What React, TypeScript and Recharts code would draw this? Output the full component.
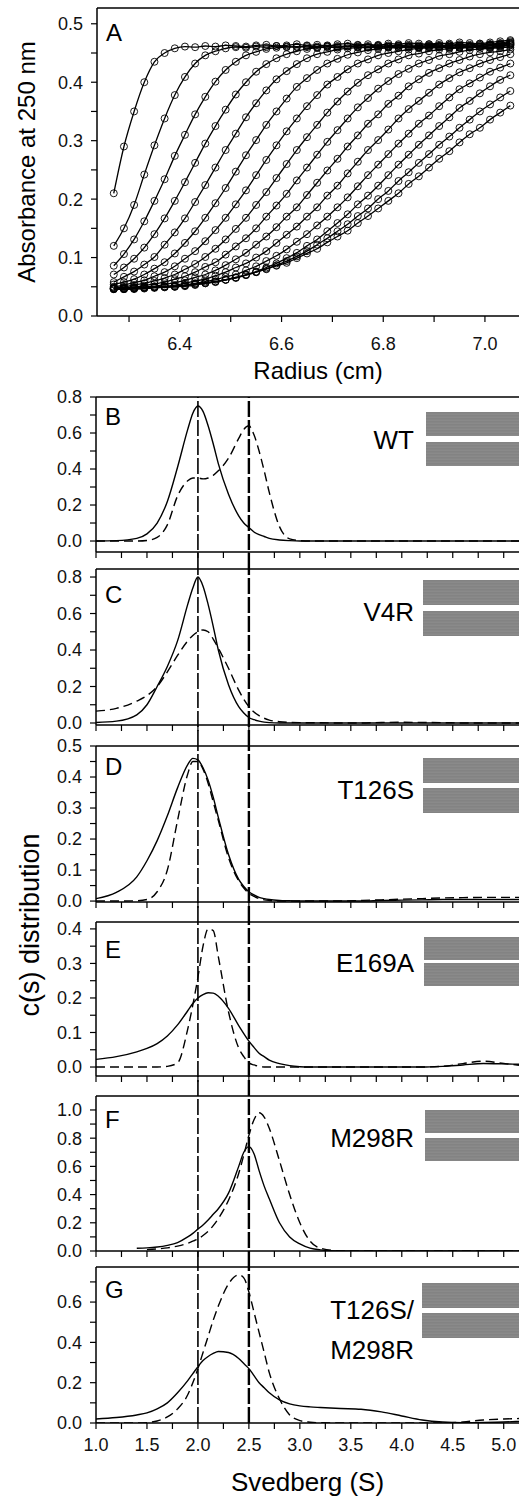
import React from "react";
import { LineChart, Line, XAxis, YAxis, ReferenceLine, Label } from "recharts";

const FONT = '"Liberation Sans", Arial, Helvetica, sans-serif';
const INK = "#000";

// ---------- panel A: absorbance scans vs radius ----------
const radius = [
  6.27, 6.29, 6.31, 6.33, 6.35, 6.37, 6.39, 6.41, 6.43, 6.45, 6.47, 6.49, 6.51, 6.53,
  6.55, 6.57, 6.59, 6.61, 6.63, 6.65, 6.67, 6.69, 6.71, 6.73, 6.75, 6.77, 6.79, 6.81,
  6.83, 6.85, 6.87, 6.89, 6.91, 6.93, 6.95, 6.97, 6.99, 7.01, 7.03, 7.05,
];

const scan01 = [0.21, 0.29, 0.35, 0.4, 0.435, 0.45, 0.458, 0.461, 0.46, 0.462, 0.461, 0.463, 0.462, 0.461, 0.463, 0.464, 0.462, 0.463, 0.465, 0.463, 0.464, 0.462, 0.465, 0.466, 0.464, 0.465, 0.463, 0.466, 0.465, 0.467, 0.466, 0.465, 0.467, 0.466, 0.468, 0.467, 0.466, 0.468, 0.47, 0.472];
const scan02 = [0.12, 0.15, 0.19, 0.242, 0.292, 0.338, 0.378, 0.409, 0.432, 0.446, 0.453, 0.458, 0.46, 0.459, 0.461, 0.46, 0.462, 0.461, 0.46, 0.462, 0.461, 0.463, 0.462, 0.461, 0.463, 0.462, 0.464, 0.463, 0.462, 0.464, 0.463, 0.465, 0.464, 0.463, 0.465, 0.464, 0.466, 0.465, 0.467, 0.47];
const scan03 = [0.086, 0.106, 0.131, 0.162, 0.197, 0.234, 0.274, 0.31, 0.345, 0.375, 0.401, 0.421, 0.435, 0.446, 0.452, 0.457, 0.459, 0.46, 0.461, 0.46, 0.459, 0.461, 0.46, 0.462, 0.461, 0.46, 0.462, 0.461, 0.463, 0.462, 0.461, 0.463, 0.462, 0.464, 0.463, 0.462, 0.464, 0.465, 0.466, 0.468];
const scan04 = [0.071, 0.083, 0.098, 0.117, 0.14, 0.167, 0.197, 0.229, 0.262, 0.295, 0.325, 0.353, 0.379, 0.4, 0.418, 0.431, 0.441, 0.448, 0.453, 0.457, 0.459, 0.46, 0.459, 0.461, 0.46, 0.459, 0.461, 0.46, 0.462, 0.461, 0.46, 0.462, 0.461, 0.463, 0.462, 0.461, 0.463, 0.464, 0.465, 0.467];
const scan05 = [0.058, 0.067, 0.076, 0.088, 0.101, 0.122, 0.143, 0.167, 0.195, 0.224, 0.254, 0.284, 0.312, 0.34, 0.364, 0.386, 0.405, 0.419, 0.431, 0.441, 0.448, 0.452, 0.456, 0.458, 0.459, 0.46, 0.459, 0.461, 0.46, 0.459, 0.461, 0.46, 0.462, 0.461, 0.46, 0.462, 0.461, 0.463, 0.464, 0.466];
const scan06 = [0.054, 0.058, 0.063, 0.071, 0.081, 0.092, 0.107, 0.125, 0.145, 0.168, 0.193, 0.219, 0.247, 0.275, 0.301, 0.327, 0.35, 0.372, 0.392, 0.407, 0.421, 0.432, 0.44, 0.447, 0.451, 0.455, 0.457, 0.459, 0.459, 0.46, 0.459, 0.461, 0.46, 0.459, 0.461, 0.46, 0.461, 0.462, 0.463, 0.465];
const scan07 = [0.05, 0.053, 0.057, 0.061, 0.068, 0.075, 0.085, 0.098, 0.111, 0.128, 0.147, 0.168, 0.191, 0.215, 0.241, 0.267, 0.292, 0.316, 0.338, 0.359, 0.378, 0.396, 0.409, 0.422, 0.432, 0.439, 0.446, 0.45, 0.453, 0.456, 0.458, 0.459, 0.459, 0.46, 0.459, 0.46, 0.461, 0.46, 0.462, 0.464];
const scan08 = [0.049, 0.05, 0.053, 0.056, 0.06, 0.065, 0.071, 0.08, 0.089, 0.101, 0.115, 0.131, 0.149, 0.168, 0.19, 0.212, 0.236, 0.26, 0.284, 0.306, 0.327, 0.348, 0.367, 0.384, 0.399, 0.412, 0.422, 0.432, 0.439, 0.446, 0.449, 0.453, 0.456, 0.457, 0.459, 0.459, 0.46, 0.459, 0.461, 0.463];
const scan09 = [0.048, 0.049, 0.05, 0.052, 0.055, 0.058, 0.063, 0.068, 0.075, 0.084, 0.092, 0.105, 0.119, 0.133, 0.15, 0.17, 0.189, 0.209, 0.232, 0.254, 0.276, 0.298, 0.318, 0.338, 0.357, 0.373, 0.389, 0.402, 0.414, 0.423, 0.432, 0.438, 0.445, 0.448, 0.452, 0.455, 0.457, 0.458, 0.459, 0.46];
const scan10 = [0.047, 0.048, 0.049, 0.05, 0.051, 0.054, 0.057, 0.061, 0.066, 0.071, 0.078, 0.087, 0.097, 0.108, 0.122, 0.136, 0.152, 0.17, 0.186, 0.207, 0.228, 0.249, 0.269, 0.29, 0.309, 0.329, 0.345, 0.363, 0.377, 0.393, 0.405, 0.416, 0.424, 0.432, 0.438, 0.444, 0.448, 0.451, 0.453, 0.456];
const scan11 = [0.047, 0.047, 0.048, 0.049, 0.05, 0.051, 0.053, 0.056, 0.06, 0.063, 0.069, 0.075, 0.083, 0.09, 0.1, 0.111, 0.125, 0.139, 0.153, 0.17, 0.186, 0.206, 0.223, 0.244, 0.264, 0.284, 0.301, 0.319, 0.338, 0.354, 0.368, 0.382, 0.396, 0.407, 0.417, 0.424, 0.432, 0.438, 0.443, 0.448];
const scan12 = [0.046, 0.046, 0.047, 0.048, 0.049, 0.05, 0.051, 0.053, 0.056, 0.059, 0.062, 0.067, 0.071, 0.078, 0.085, 0.094, 0.103, 0.114, 0.127, 0.14, 0.155, 0.17, 0.186, 0.203, 0.222, 0.241, 0.259, 0.277, 0.295, 0.312, 0.329, 0.343, 0.359, 0.374, 0.388, 0.398, 0.408, 0.418, 0.425, 0.432];
const scan13 = [0.046, 0.046, 0.046, 0.047, 0.048, 0.049, 0.05, 0.051, 0.053, 0.056, 0.058, 0.062, 0.066, 0.071, 0.076, 0.083, 0.09, 0.099, 0.108, 0.12, 0.131, 0.145, 0.159, 0.174, 0.191, 0.206, 0.223, 0.241, 0.259, 0.276, 0.293, 0.309, 0.325, 0.34, 0.356, 0.368, 0.381, 0.393, 0.404, 0.412];
const scan14 = [0.046, 0.046, 0.047, 0.048, 0.049, 0.05, 0.05, 0.052, 0.054, 0.056, 0.059, 0.062, 0.065, 0.07, 0.075, 0.081, 0.087, 0.094, 0.102, 0.111, 0.122, 0.133, 0.145, 0.157, 0.171, 0.184, 0.2, 0.214, 0.231, 0.246, 0.262, 0.277, 0.293, 0.307, 0.322, 0.336, 0.35, 0.362, 0.374, 0.385];
const scan15 = [0.047, 0.047, 0.048, 0.049, 0.049, 0.05, 0.051, 0.053, 0.055, 0.057, 0.059, 0.062, 0.066, 0.07, 0.075, 0.08, 0.086, 0.091, 0.099, 0.107, 0.115, 0.126, 0.136, 0.146, 0.159, 0.171, 0.184, 0.197, 0.21, 0.226, 0.239, 0.254, 0.269, 0.282, 0.297, 0.311, 0.322, 0.336, 0.348, 0.36];

const scans = [scan01, scan02, scan03, scan04, scan05, scan06, scan07, scan08, scan09, scan10, scan11, scan12, scan13, scan14, scan15];

const radiusTicks = [6.3, 6.4, 6.5, 6.6, 6.7, 6.8, 6.9, 7.0];
const radiusLabels = ["", "6.4", "", "6.6", "", "6.8", "", "7.0"];

// ---------- panels B-G: c(s) distributions ----------
const svedberg = [
  1.0, 1.2, 1.4, 1.5, 1.6, 1.7, 1.8, 1.9, 1.95,
  2.0, 2.05, 2.1, 2.15, 2.2, 2.3, 2.4, 2.45, 2.5,
  2.55, 2.6, 2.65, 2.7, 2.8, 2.9, 3.0, 3.1, 3.2,
  3.4, 3.6, 3.8, 4.0, 4.2, 4.4, 4.6, 4.8, 5.0, 5.15,
];

const wtSolid = [0, 0.002, 0.015, 0.04, 0.1, 0.22, 0.41, 0.62, 0.71, 0.75, 0.72, 0.64, 0.54, 0.43, 0.26, 0.14, 0.1, 0.075, 0.05, 0.035, 0.025, 0.015, 0.006, 0.002, 0, 0, 0, 0, 0, 0, 0, 0, 0, 0, 0, 0, 0];
const wtDashed = [0, 0, 0, 0.003, 0.02, 0.09, 0.25, 0.335, 0.35, 0.35, 0.345, 0.35, 0.365, 0.39, 0.46, 0.57, 0.62, 0.64, 0.59, 0.5, 0.39, 0.27, 0.08, 0.012, 0.002, 0, 0, 0, 0, 0, 0, 0, 0, 0, 0, 0, 0];
const v4rSolid = [0.003, 0.01, 0.045, 0.1, 0.2, 0.31, 0.45, 0.65, 0.74, 0.8, 0.75, 0.65, 0.53, 0.4, 0.21, 0.09, 0.055, 0.03, 0.018, 0.01, 0.005, 0.002, 0, 0, 0, 0, 0, 0, 0, 0, 0, 0, 0, 0, 0, 0, 0];
const v4rDashed = [0.065, 0.08, 0.12, 0.15, 0.2, 0.28, 0.37, 0.45, 0.48, 0.5, 0.51, 0.5, 0.46, 0.41, 0.3, 0.18, 0.13, 0.09, 0.06, 0.04, 0.026, 0.016, 0.007, 0.003, 0.002, 0.001, 0.001, 0, 0, 0.003, 0.004, 0.003, 0.002, 0, 0, 0, 0];
const t126sSolid = [0.008, 0.028, 0.078, 0.13, 0.195, 0.275, 0.365, 0.44, 0.46, 0.455, 0.43, 0.39, 0.335, 0.27, 0.15, 0.07, 0.047, 0.03, 0.02, 0.012, 0.008, 0.005, 0.002, 0.001, 0, 0, 0, 0, 0, 0.002, 0.003, 0.004, 0.005, 0.005, 0.005, 0.005, 0.005];
const t126sDashed = [0, 0, 0.001, 0.005, 0.03, 0.1, 0.26, 0.41, 0.45, 0.45, 0.425, 0.38, 0.32, 0.26, 0.14, 0.065, 0.042, 0.025, 0.015, 0.008, 0.004, 0.002, 0, 0, 0, 0, 0, 0, 0.002, 0.004, 0.006, 0.008, 0.01, 0.011, 0.012, 0.012, 0.012];
const e169aSolid = [0.022, 0.03, 0.044, 0.054, 0.068, 0.09, 0.122, 0.163, 0.184, 0.2, 0.21, 0.215, 0.214, 0.205, 0.17, 0.12, 0.097, 0.075, 0.057, 0.04, 0.03, 0.02, 0.01, 0.004, 0.001, 0, 0, 0, 0, 0, 0, 0, 0.002, 0.006, 0.01, 0.009, 0.008];
const e169aDashed = [0, 0, 0, 0, 0, 0.002, 0.012, 0.11, 0.18, 0.26, 0.35, 0.4, 0.395, 0.32, 0.16, 0.055, 0.03, 0.012, 0.006, 0.002, 0, 0, 0, 0, 0, 0, 0, 0, 0, 0, 0, 0, 0.002, 0.01, 0.017, 0.01, 0.005];
const m298rSolid = [null, null, 0.02, 0.022, 0.028, 0.04, 0.06, 0.1, 0.125, 0.155, 0.185, 0.22, 0.26, 0.3, 0.41, 0.6, 0.7, 0.74, 0.69, 0.57, 0.46, 0.37, 0.2, 0.1, 0.05, 0.02, 0.008, 0, 0, 0, 0, 0, 0, 0, 0, 0, 0];
const m298rDashed = [null, null, null, 0.01, 0.015, 0.022, 0.035, 0.055, 0.07, 0.085, 0.11, 0.14, 0.18, 0.23, 0.36, 0.55, 0.68, 0.82, 0.93, 0.98, 0.95, 0.87, 0.64, 0.4, 0.2, 0.07, 0.02, 0.001, 0, 0, 0, 0, 0, 0, 0, 0, 0];
const doubleSolid = [0.02, 0.027, 0.04, 0.05, 0.07, 0.1, 0.15, 0.21, 0.245, 0.28, 0.31, 0.33, 0.345, 0.355, 0.35, 0.32, 0.295, 0.27, 0.235, 0.2, 0.175, 0.15, 0.115, 0.095, 0.085, 0.08, 0.077, 0.072, 0.068, 0.055, 0.035, 0.015, 0.005, 0.002, 0.003, 0.005, 0.008];
const doubleDashed = [0, 0, 0, 0.002, 0.01, 0.03, 0.07, 0.14, 0.2, 0.27, 0.35, 0.43, 0.51, 0.58, 0.69, 0.735, 0.72, 0.65, 0.55, 0.45, 0.35, 0.25, 0.12, 0.04, 0.012, 0.004, 0.001, 0, 0, 0, 0, 0, 0, 0.005, 0.015, 0.02, 0.022];

// the two vertical guide lines (S)
const guideValues = [2.0, 2.5];

const sTicks = [1, 1.25, 1.5, 1.75, 2, 2.25, 2.5, 2.75, 3, 3.25, 3.5, 3.75, 4, 4.25, 4.5, 4.75, 5];
const sLabels = ["1.0", "", "1.5", "", "2.0", "", "2.5", "", "3.0", "", "3.5", "", "4.0", "", "4.5", "", "5.0"];

const ticks04 = [0, 0.05, 0.1, 0.15, 0.2, 0.25, 0.3, 0.35, 0.4];
const labels04 = ["0.0", "", "0.1", "", "0.2", "", "0.3", "", "0.4"];
const ticks05 = [0, 0.05, 0.1, 0.15, 0.2, 0.25, 0.3, 0.35, 0.4, 0.45, 0.5];
const labels05 = ["0.0", "", "0.1", "", "0.2", "", "0.3", "", "0.4", "", "0.5"];
const ticks07 = [0, 0.1, 0.2, 0.3, 0.4, 0.5, 0.6, 0.7];
const labels07 = ["0.0", "", "0.2", "", "0.4", "", "0.6", ""];
const ticks08 = [0, 0.1, 0.2, 0.3, 0.4, 0.5, 0.6, 0.7, 0.8];
const labels08 = ["0.0", "", "0.2", "", "0.4", "", "0.6", "", "0.8"];
const ticks10 = [0, 0.1, 0.2, 0.3, 0.4, 0.5, 0.6, 0.7, 0.8, 0.9, 1.0];
const labels10 = ["0.0", "", "0.2", "", "0.4", "", "0.6", "", "0.8", "", "1.0"];

// layout of the stacked panels (pixels)
const panels = [
  { letter: "B", names: ["WT"], solid: wtSolid, dashed: wtDashed, top: 397, bottom: 552, domain: [-0.061, 0.8], ticks: ticks08, labels: labels08, letterY: 417, nameY: [440], rectX: 426, rectY: [412, 442], rectH: 24 },
  { letter: "C", names: ["V4R"], solid: v4rSolid, dashed: v4rDashed, top: 569, bottom: 725, domain: [-0.011, 0.844], ticks: ticks08, labels: labels08, letterY: 595, nameY: [612], rectX: 423, rectY: [580, 611], rectH: 25 },
  { letter: "D", names: ["T126S"], solid: t126sSolid, dashed: t126sDashed, top: 746, bottom: 902, domain: [-0.003, 0.5], ticks: ticks05, labels: labels05, letterY: 767, nameY: [790], rectX: 423, rectY: [758, 788], rectH: 25 },
  { letter: "E", names: ["E169A"], solid: e169aSolid, dashed: e169aDashed, top: 922, bottom: 1076, domain: [-0.026, 0.42], ticks: ticks04, labels: labels04, letterY: 950, nameY: [963], rectX: 424, rectY: [937, 963], rectH: 23 },
  { letter: "F", names: ["M298R"], solid: m298rSolid, dashed: m298rDashed, top: 1096, bottom: 1251, domain: [0, 1.099], ticks: ticks10, labels: labels10, letterY: 1120, nameY: [1138], rectX: 425, rectY: [1110, 1138], rectH: 23 },
  { letter: "G", names: ["T126S/", "M298R"], solid: doubleSolid, dashed: doubleDashed, top: 1267, bottom: 1423, domain: [0, 0.774], ticks: ticks07, labels: labels07, letterY: 1290, nameY: [1310, 1350], rectX: 422, rectY: [1283, 1313], rectH: 25 },
];

const W = 519;
const H = 1498;
const AXIS_X = 96;
const PAD_TOP = 12;
const tickText = { fontSize: 18, fill: "#111", fontFamily: FONT };
const axisLine = { stroke: INK, strokeWidth: 1.5 };
const tickLine = { stroke: INK, strokeWidth: 1.2 };
const RESID = "repeating-linear-gradient(180deg, #8b8b8b 0px, #7b7b7b 1px, #919191 2px, #838383 3px)";

const fmt = (ticks, labels) => (v) => {
  const i = ticks.indexOf(v);
  return i >= 0 ? labels[i] : "";
};

function AbsorbancePanel() {
  const rows = radius.map((r, i) => {
    const row = { r };
    scans.forEach((sc, j) => {
      row["s" + j] = sc[i];
    });
    return row;
  });
  return (
    <div style={{ position: "absolute", left: 0, top: 0 }}>
      <LineChart width={W} height={392} data={rows} margin={{ top: 8, right: 0, bottom: 0, left: 0 }}>
        <XAxis
          dataKey="r"
          type="number"
          domain={[6.237, 7.067]}
          allowDataOverflow
          ticks={radiusTicks}
          interval={0}
          tickFormatter={fmt(radiusTicks, radiusLabels)}
          height={76}
          tickSize={6}
          tickMargin={15}
          tick={tickText}
          axisLine={axisLine}
          tickLine={tickLine}
        >
          <Label value="Radius (cm)" position="insideBottom" offset={13} dx={10} fontSize={24} style={{ fontSize: 24, fill: INK }} />
        </XAxis>
        <YAxis
          type="number"
          domain={[0, 0.527]}
          allowDataOverflow
          ticks={ticks05}
          interval={0}
          tickFormatter={fmt(ticks05, labels05)}
          width={97}
          tickSize={6}
          tickMargin={8}
          tick={tickText}
          axisLine={axisLine}
          tickLine={tickLine}
        >
          <Label value="Absorbance at 250 nm" angle={-90} position="insideLeft" offset={26} fontSize={24} style={{ fontSize: 24, fill: INK, textAnchor: "middle" }} />
        </YAxis>
        <ReferenceLine y={0.527} stroke={INK} strokeWidth={1.6} />
        {scans.map((_, j) => (
          <Line
            key={j}
            dataKey={"s" + j}
            type="monotone"
            stroke={INK}
            strokeWidth={1.3}
            dot={{ r: 3.5, stroke: INK, strokeWidth: 0.9, fill: "none" }}
            isAnimationActive={false}
          />
        ))}
      </LineChart>
    </div>
  );
}

function SvedbergPanel({ p, next }) {
  const rows = svedberg.map((s, i) => ({ s, solid: p.solid[i], dashed: p.dashed[i] }));
  const last = !next;
  const gap = next ? next.top - p.bottom : 0;
  const axisH = last ? H - p.bottom : gap;
  // guide lines continue through the gap down to the next panel's top edge
  const perUnit = (p.domain[1] - p.domain[0]) / (p.bottom - p.top);
  const guideLow = p.domain[0] - gap * perUnit;
  return (
    <div style={{ position: "absolute", left: 0, top: p.top - PAD_TOP }}>
      <LineChart width={W} height={p.bottom - p.top + PAD_TOP + axisH} data={rows} margin={{ top: PAD_TOP, right: 0, bottom: 0, left: 0 }}>
        <XAxis
          dataKey="s"
          type="number"
          domain={[1, 5.15]}
          allowDataOverflow
          ticks={sTicks}
          interval={0}
          tickFormatter={last ? fmt(sTicks, sLabels) : () => ""}
          height={axisH}
          tickSize={6}
          tickMargin={9}
          tick={tickText}
          axisLine={axisLine}
          tickLine={tickLine}
        >
          {last && <Label value="Svedberg (S)" position="insideBottom" offset={7} fontSize={26} style={{ fontSize: 26, fill: INK }} />}
        </XAxis>
        <YAxis
          type="number"
          domain={p.domain}
          allowDataOverflow
          ticks={p.ticks}
          interval={0}
          tickFormatter={fmt(p.ticks, p.labels)}
          width={AXIS_X}
          tickSize={6}
          tickMargin={8}
          tick={tickText}
          axisLine={axisLine}
          tickLine={tickLine}
        />
        <ReferenceLine y={p.domain[1]} stroke={INK} strokeWidth={1.6} />
        <Line dataKey="solid" type="monotone" stroke={INK} strokeWidth={1.4} dot={false} isAnimationActive={false} />
        <Line dataKey="dashed" type="monotone" stroke={INK} strokeWidth={1.4} strokeDasharray="9 5" dot={false} isAnimationActive={false} />
        {guideValues.map((g, k) => (
          <ReferenceLine
            key={g}
            segment={[{ x: g, y: guideLow }, { x: g, y: p.domain[1] }]}
            ifOverflow="visible"
            stroke={INK}
            strokeWidth={k === 0 ? 1.6 : 2.4}
            strokeDasharray="16 3"
          />
        ))}
      </LineChart>
    </div>
  );
}

export default function App() {
  return (
    <div
      style={{
        position: "absolute",
        left: 0,
        top: 0,
        width: W,
        height: H,
        overflow: "hidden",
        background: "#fff",
        fontFamily: FONT,
        color: INK,
      }}
    >
      <AbsorbancePanel />
      <div style={{ position: "absolute", left: 106, top: 21, fontSize: 24, lineHeight: "24px" }}>A</div>

      {panels.map((p, i) => (
        <SvedbergPanel key={p.letter} p={p} next={panels[i + 1]} />
      ))}

      {panels.map((p) => (
        <React.Fragment key={"t" + p.letter}>
          <div style={{ position: "absolute", left: 105, top: p.letterY - 12, fontSize: 24, lineHeight: "24px" }}>{p.letter}</div>
          {p.names.map((t, k) => (
            <div
              key={t}
              style={{
                position: "absolute",
                left: 0,
                width: 414,
                top: p.nameY[k] - 13,
                fontSize: 26,
                lineHeight: "26px",
                textAlign: "right",
                whiteSpace: "nowrap",
              }}
            >
              {t}
            </div>
          ))}
          {p.rectY.map((y) => (
            <div
              key={y}
              style={{ position: "absolute", left: p.rectX, top: y, width: W - p.rectX, height: p.rectH, background: RESID }}
            />
          ))}
        </React.Fragment>
      ))}

      <div
        style={{
          position: "absolute",
          left: 30,
          top: 925,
          transform: "translate(-50%, -50%) rotate(-90deg)",
          fontSize: 27,
          lineHeight: "27px",
          whiteSpace: "nowrap",
        }}
      >
        c(s) distribution
      </div>
    </div>
  );
}
